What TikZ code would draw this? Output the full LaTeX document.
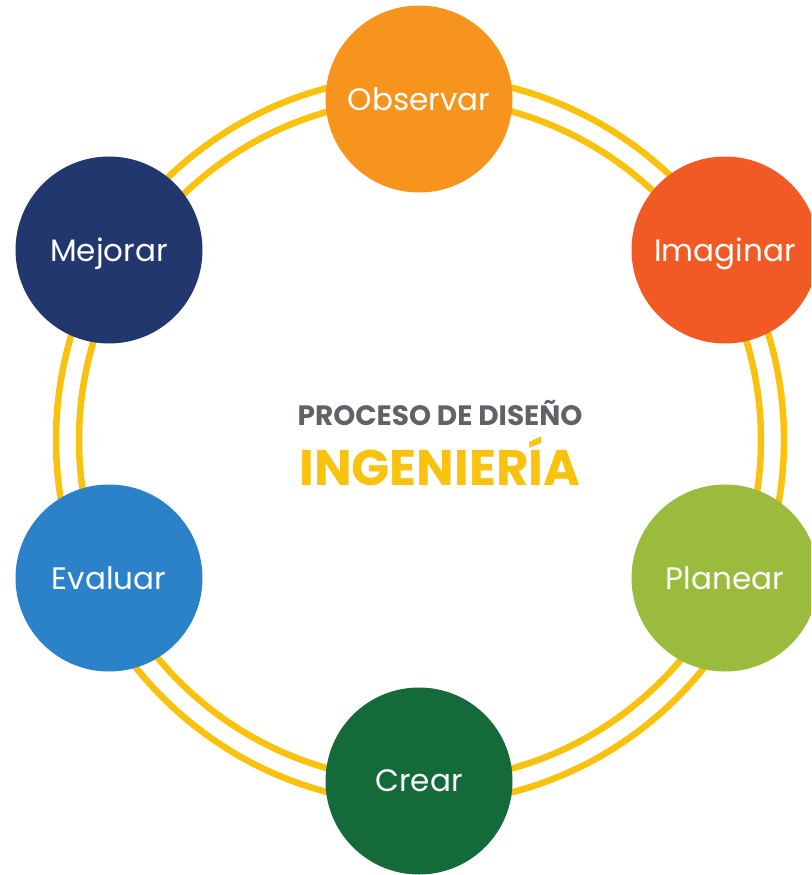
\documentclass[tikz,border=0pt]{standalone}
\usepackage{fontspec}
\setmainfont{Poppins}
\definecolor{ringyellow}{HTML}{F9C20F}
\definecolor{titlegray}{HTML}{5F6266}
\definecolor{obsorange}{HTML}{F7941D}
\definecolor{imgred}{HTML}{F15A24}
\definecolor{plangreen}{HTML}{9ABB3C}
\definecolor{creargreen}{HTML}{146A38}
\definecolor{evalblue}{HTML}{2B82C9}
\definecolor{mejnavy}{HTML}{21376E}
\tikzset{
  stage/.style={circle, minimum size=187pt, inner sep=0pt, text=white, text depth=0pt, font=\fontsize{31}{33}\selectfont},
  ringline/.style={draw=ringyellow, line width=6.5pt}
}

\begin{document}
\begin{tikzpicture}[x=1pt, y=-1pt]
    % Canvas
    \useasboundingbox (0,0) rectangle (811,875);
    \clip (0,0) rectangle (811,875);

    % Double ring
    \coordinate (hub) at (420,440);
    \draw[ringline] (hub) circle[radius=364pt];
    \draw[ringline] (hub) circle[radius=341pt];

    % Stages
    \node[stage, fill=obsorange] (observar) at (419,99) {Observar};
    \node[stage, fill=imgred] (imaginar) at (725,250) {Imaginar};
    \node[stage, fill=plangreen] (planear) at (725,578) {Planear};
    \node[stage, fill=creargreen] (crear) at (419,781) {Crear};
    \node[stage, fill=evalblue] (evaluar) at (109,578) {Evaluar};
    \node[stage, fill=mejnavy] (mejorar) at (109,250) {Mejorar};

    % Title
    \node[anchor=base, font=\bfseries\fontsize{28}{30}\selectfont, text=titlegray] (titulo) at (440,425) {PROCESO DE DISEÑO};
    \node[anchor=base, font=\bfseries\fontsize{50}{52}\selectfont, text=ringyellow] (ingenieria) at (440,485) {INGENIERÍA};
\end{tikzpicture}
\end{document}
